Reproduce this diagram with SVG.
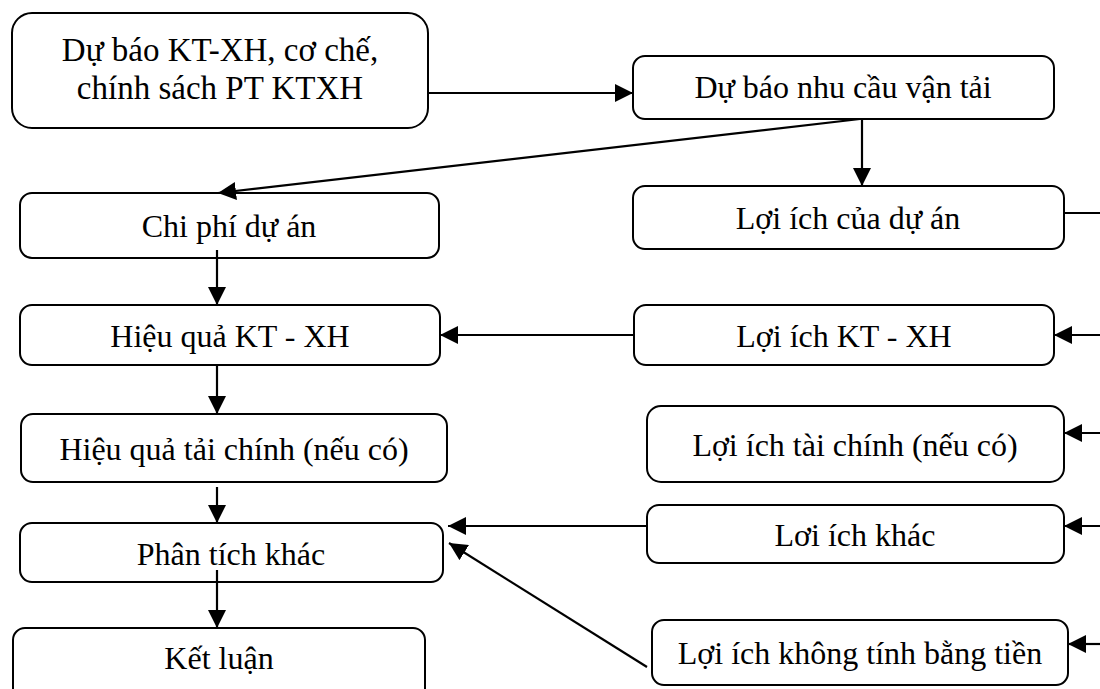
<svg xmlns="http://www.w3.org/2000/svg" width="1100" height="689" viewBox="0 0 1100 689">
<style>
.box{fill:#fff;stroke:#000;stroke-width:2}
.t{font-family:"Liberation Serif","Times New Roman",serif;font-size:32px;fill:#000;text-anchor:middle}
.t1{font-size:33px}
.c{stroke:#000;stroke-width:2.2;fill:none}
</style>
<defs>
<marker id="ah" markerUnits="userSpaceOnUse" markerWidth="18" markerHeight="18" viewBox="0 0 16 16" refX="16" refY="8" orient="auto">
<path d="M0,0 L16,8 L0,16 Z" fill="#000"/>
</marker>
</defs>
<rect width="1100" height="689" fill="#fff"/>
<g id="n1"><rect class="box" x="12" y="13" width="416" height="115" rx="20"/><text class="t t1" x="220" y="61">Dự báo KT-XH, cơ chế,</text><text class="t t1" x="220" y="99">chính sách PT KTXH</text></g>
<g id="n2"><rect class="box" x="633" y="56" width="421" height="63" rx="12"/><text class="t" x="843" y="98">Dự báo nhu cầu vận tải</text></g>
<g id="n3"><rect class="box" x="633" y="186" width="431" height="63" rx="12"/><text class="t" x="848" y="229">Lợi ích của dự án</text></g>
<g id="n4"><rect class="box" x="20" y="193" width="419" height="65" rx="12"/><text class="t" x="229" y="237">Chi phí dự án</text></g>
<g id="n5"><rect class="box" x="20" y="305" width="420" height="60" rx="12"/><text class="t" x="230" y="347">Hiệu quả KT - XH</text></g>
<g id="n6"><rect class="box" x="634" y="305" width="420" height="60" rx="12"/><text class="t" x="844" y="347">Lợi ích KT - XH</text></g>
<g id="n7"><rect class="box" x="21" y="414" width="426" height="68" rx="12"/><text class="t" x="234" y="460">Hiệu quả tải chính (nếu có)</text></g>
<g id="n8"><rect class="box" x="647" y="406" width="417" height="76" rx="14"/><text class="t" x="855" y="456">Lợi ích tài chính (nếu có)</text></g>
<g id="n9"><rect class="box" x="647" y="505" width="417" height="58" rx="12"/><text class="t" x="855" y="546">Lơi ích khác</text></g>
<g id="n10"><rect class="box" x="20" y="523" width="423" height="59" rx="12"/><text class="t" x="231" y="565">Phân tích khác</text></g>
<g id="n11"><rect class="box" x="652" y="620" width="416" height="65" rx="12"/><text class="t" x="860" y="664">Lợi ích không tính bằng tiền</text></g>
<g id="n12"><rect class="box" x="13" y="628" width="412" height="80" rx="12"/><text class="t" x="219" y="669">Kết luận</text></g>
<g id="connectors">
<line class="c" x1="428" y1="93" x2="633" y2="93" marker-end="url(#ah)"/>
<line class="c" x1="862" y1="119" x2="862" y2="186" marker-end="url(#ah)"/>
<line class="c" x1="860" y1="119" x2="218" y2="193" marker-end="url(#ah)"/>
<line class="c" x1="1064" y1="213" x2="1100" y2="213"/>
<line class="c" x1="1100" y1="335" x2="1054" y2="335" marker-end="url(#ah)"/>
<line class="c" x1="634" y1="335" x2="440" y2="335" marker-end="url(#ah)"/>
<line class="c" x1="217" y1="250" x2="217" y2="305" marker-end="url(#ah)"/>
<line class="c" x1="217" y1="365" x2="217" y2="414" marker-end="url(#ah)"/>
<line class="c" x1="1100" y1="433" x2="1064" y2="433" marker-end="url(#ah)"/>
<line class="c" x1="217" y1="487" x2="217" y2="523" marker-end="url(#ah)"/>
<line class="c" x1="1100" y1="526" x2="1064" y2="526" marker-end="url(#ah)"/>
<line class="c" x1="647" y1="526" x2="448" y2="526" marker-end="url(#ah)"/>
<line class="c" x1="647" y1="667" x2="449" y2="543" marker-end="url(#ah)"/>
<line class="c" x1="1100" y1="644" x2="1068" y2="644" marker-end="url(#ah)"/>
<line class="c" x1="217" y1="570" x2="217" y2="628" marker-end="url(#ah)"/>
</g>
</svg>
